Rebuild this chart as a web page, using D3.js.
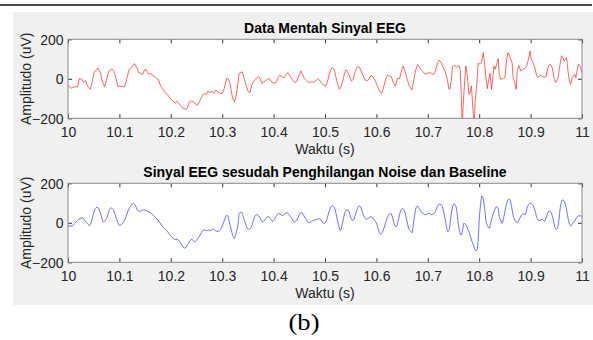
<!DOCTYPE html>
<html><head><meta charset="utf-8">
<script src="https://cdn.jsdelivr.net/npm/d3@7"></script>
<style>html,body{margin:0;padding:0;background:#fff;}svg{display:block;}</style>
</head><body>
<svg id="c" width="593" height="340"></svg>
<script>
const timeTicks = [10, 10.1, 10.2, 10.3, 10.4, 10.5, 10.6, 10.7, 10.8, 10.9, 11];
const ampTicks = [-200, 0, 200];
const titles = ["Data Mentah Sinyal EEG", "Sinyal EEG sesudah Penghilangan Noise dan Baseline"];
const xLabel = "Waktu (s)";
const yLabel = "Amplitudo (uV)";
const caption = "(b)";

const rawSignal = [
[10.000,-33],[10.006,-48],[10.012,-41],[10.019,-41],[10.022,1],[10.027,-3],[10.030,-16],[10.034,-9],[10.038,-36],[10.043,-53],
[10.047,-19],[10.051,35],[10.054,40],[10.058,55],[10.063,31],[10.067,-16],[10.071,-40],[10.075,-3],[10.080,41],[10.085,50],
[10.089,38],[10.093,6],[10.097,-40],[10.101,-36],[10.106,-40],[10.110,-40],[10.114,-3],[10.119,48],[10.125,62],[10.129,77],
[10.134,57],[10.137,31],[10.141,28],[10.145,21],[10.149,45],[10.152,48],[10.156,23],[10.160,28],[10.163,21],[10.167,14],
[10.173,1],[10.176,-3],[10.180,-36],[10.184,-50],[10.189,-70],[10.195,-84],[10.200,-104],[10.204,-111],[10.208,-124],[10.212,-114],
[10.217,-129],[10.220,-138],[10.224,-151],[10.230,-155],[10.233,-143],[10.236,-117],[10.240,-112],[10.244,-117],[10.248,-128],[10.252,-134],
[10.256,-114],[10.259,-97],[10.262,-80],[10.266,-74],[10.270,-79],[10.272,-63],[10.276,-70],[10.280,-63],[10.284,-74],[10.287,-57],
[10.292,-67],[10.296,-74],[10.300,-74],[10.303,-57],[10.309,4],[10.313,-3],[10.316,-36],[10.320,-95],[10.324,-117],[10.327,-87],
[10.331,-19],[10.333,28],[10.339,35],[10.350,-62],[10.354,-70],[10.358,-28],[10.363,-6],[10.367,4],[10.371,11],[10.374,1],
[10.377,-23],[10.381,-16],[10.385,-9],[10.389,1],[10.393,-3],[10.396,-16],[10.401,-23],[10.405,-19],[10.409,8],[10.412,18],
[10.416,11],[10.420,4],[10.424,21],[10.428,31],[10.432,14],[10.436,-3],[10.441,-19],[10.445,-13],[10.449,14],[10.453,40],
[10.457,18],[10.460,1],[10.464,-9],[10.468,-19],[10.472,-16],[10.476,-19],[10.481,-13],[10.486,1],[10.490,-9],[10.494,-23],
[10.498,-33],[10.502,-36],[10.506,-3],[10.510,40],[10.514,57],[10.518,48],[10.520,23],[10.524,-23],[10.528,-53],[10.532,-36],
[10.536,6],[10.540,45],[10.543,41],[10.547,18],[10.551,-11],[10.555,-3],[10.559,40],[10.563,62],[10.567,58],[10.571,35],
[10.575,11],[10.578,-6],[10.582,-9],[10.586,1],[10.590,18],[10.594,6],[10.598,-11],[10.602,-36],[10.606,-62],[10.610,-74],
[10.613,-53],[10.617,-11],[10.621,18],[10.625,14],[10.629,11],[10.633,-19],[10.637,-36],[10.641,1],[10.645,1],[10.649,40],
[10.652,65],[10.656,35],[10.660,-3],[10.664,-36],[10.669,-57],[10.673,-3],[10.676,40],[10.680,72],[10.684,57],[10.687,45],
[10.691,35],[10.695,23],[10.699,28],[10.703,31],[10.707,28],[10.711,21],[10.715,40],[10.719,82],[10.722,95],[10.726,82],
[10.730,57],[10.734,35],[10.738,-3],[10.741,-50],[10.743,-53],[10.746,-3],[10.748,62],[10.752,68],[10.756,57],[10.760,68],
[10.763,48],[10.765,-79],[10.767,-240],[10.769,-121],[10.772,-3],[10.774,65],[10.777,14],[10.780,-79],[10.782,-74],[10.785,-36],
[10.787,-121],[10.790,-240],[10.792,-121],[10.795,-36],[10.798,79],[10.802,74],[10.805,85],[10.808,133],[10.811,65],[10.813,6],
[10.816,-50],[10.818,-11],[10.821,28],[10.824,-53],[10.826,-3],[10.829,65],[10.831,48],[10.834,74],[10.837,102],[10.839,23],
[10.842,-3],[10.846,1],[10.850,6],[10.853,90],[10.856,133],[10.859,116],[10.861,99],[10.864,82],[10.866,6],[10.869,-19],
[10.872,-53],[10.874,40],[10.877,68],[10.881,40],[10.885,48],[10.888,52],[10.892,62],[10.896,99],[10.899,141],[10.901,99],
[10.905,82],[10.909,48],[10.912,14],[10.914,6],[10.918,18],[10.922,14],[10.926,6],[10.930,11],[10.933,48],[10.935,68],
[10.938,74],[10.942,57],[10.946,-3],[10.949,-19],[10.953,1],[10.957,68],[10.960,116],[10.962,112],[10.965,90],[10.968,99],
[10.970,107],[10.973,35],[10.975,-3],[10.978,-28],[10.981,6],[10.983,14],[10.986,23],[10.988,6],[10.991,48],[10.993,74],
[10.996,65],[11.000,31]
];

const cleanSignal = [
[10.000,-16],[10.008,-16],[10.013,-3],[10.018,11],[10.023,21],[10.029,25],[10.032,14],[10.036,1],[10.042,-13],[10.045,1],
[10.049,41],[10.053,72],[10.057,79],[10.061,65],[10.065,31],[10.069,4],[10.073,14],[10.077,35],[10.080,62],[10.084,75],
[10.088,68],[10.092,38],[10.096,8],[10.100,-13],[10.104,-9],[10.108,4],[10.112,25],[10.115,48],[10.119,72],[10.123,89],
[10.127,97],[10.131,89],[10.135,65],[10.139,58],[10.143,62],[10.147,65],[10.150,65],[10.154,58],[10.160,52],[10.165,41],
[10.170,28],[10.175,14],[10.180,-3],[10.185,-23],[10.191,-36],[10.196,-53],[10.201,-70],[10.205,-80],[10.209,-84],[10.213,-84],
[10.217,-94],[10.220,-107],[10.224,-124],[10.228,-128],[10.232,-114],[10.236,-97],[10.240,-84],[10.244,-90],[10.246,-97],[10.250,-90],
[10.254,-74],[10.258,-57],[10.262,-40],[10.266,-36],[10.270,-40],[10.274,-36],[10.278,-40],[10.281,-30],[10.285,-36],[10.289,-43],
[10.293,-43],[10.297,-33],[10.301,-11],[10.305,18],[10.309,38],[10.311,35],[10.314,4],[10.318,-40],[10.322,-74],[10.324,-79],
[10.327,-53],[10.331,-3],[10.333,48],[10.337,55],[10.342,23],[10.346,-11],[10.351,-33],[10.355,-28],[10.359,-3],[10.363,31],
[10.367,41],[10.371,35],[10.375,18],[10.379,4],[10.383,14],[10.387,28],[10.390,31],[10.394,21],[10.398,8],[10.402,18],
[10.406,38],[10.410,48],[10.414,41],[10.418,38],[10.422,45],[10.425,52],[10.429,45],[10.433,31],[10.437,14],[10.441,4],
[10.445,14],[10.449,35],[10.453,52],[10.457,45],[10.460,31],[10.464,14],[10.468,1],[10.472,4],[10.476,11],[10.480,14],
[10.484,18],[10.488,21],[10.492,14],[10.495,1],[10.499,-3],[10.503,14],[10.507,48],[10.511,79],[10.515,85],[10.519,72],
[10.523,28],[10.527,-19],[10.530,-40],[10.534,-3],[10.538,45],[10.542,65],[10.546,62],[10.550,28],[10.554,11],[10.558,31],
[10.562,65],[10.566,85],[10.569,82],[10.573,52],[10.577,28],[10.581,18],[10.585,25],[10.589,31],[10.593,25],[10.597,11],
[10.601,-9],[10.604,-36],[10.608,-57],[10.612,-46],[10.616,-16],[10.620,18],[10.624,41],[10.628,48],[10.632,21],[10.636,-16],
[10.639,-19],[10.643,18],[10.647,58],[10.651,72],[10.655,58],[10.659,14],[10.663,-30],[10.667,-45],[10.669,-50],[10.673,14],
[10.677,75],[10.680,85],[10.684,68],[10.687,55],[10.691,48],[10.695,41],[10.699,45],[10.703,48],[10.707,41],[10.711,45],
[10.715,58],[10.719,85],[10.722,95],[10.726,92],[10.730,65],[10.734,14],[10.737,-28],[10.739,-45],[10.742,-33],[10.744,14],
[10.747,65],[10.751,95],[10.755,82],[10.757,48],[10.760,-19],[10.763,-53],[10.765,-63],[10.768,-33],[10.770,-3],[10.773,-6],
[10.777,-26],[10.781,-53],[10.785,-87],[10.789,-114],[10.792,-138],[10.795,-141],[10.798,-87],[10.800,14],[10.803,99],[10.805,136],
[10.808,119],[10.811,65],[10.813,14],[10.817,-19],[10.820,-28],[10.822,-3],[10.826,35],[10.830,65],[10.834,82],[10.837,72],
[10.839,31],[10.842,14],[10.844,-3],[10.848,31],[10.852,82],[10.856,116],[10.859,119],[10.863,82],[10.866,38],[10.870,11],
[10.874,1],[10.878,18],[10.882,38],[10.886,45],[10.890,41],[10.892,65],[10.896,92],[10.900,99],[10.904,92],[10.908,65],
[10.912,28],[10.916,11],[10.920,14],[10.923,18],[10.927,8],[10.931,31],[10.935,58],[10.939,55],[10.943,28],[10.947,-19],
[10.951,-33],[10.955,11],[10.958,82],[10.962,116],[10.966,106],[10.970,65],[10.974,8],[10.978,-16],[10.982,-3],[10.986,11],
[10.990,28],[10.993,35],[10.997,35],[11.000,31]
];

const svg = d3.select("#c");
const FONT = "'Liberation Sans', Arial, Helvetica, sans-serif";

svg.append("rect").attr("x",0).attr("y",0).attr("width",593).attr("height",340).attr("fill","#fff");
svg.append("line").attr("x1",0).attr("x2",592).attr("y1",5).attr("y2",5).attr("stroke","#111").attr("stroke-width",1.7);
svg.append("rect").attr("x",13).attr("y",12).attr("width",580).attr("height",293).attr("fill","#f0f0f0");

const x = d3.scaleLinear().domain([10, 11]).range([68, 582]);

const panels = [
  {top: 39.3, bottom: 118.3, data: rawSignal, color: "#ff1a1a", curve: d3.curveLinear, title: titles[0]},
  {top: 183.3, bottom: 262.3, data: cleanSignal, color: "#2a2aff", curve: d3.curveMonotoneX, title: titles[1]}
];

panels.forEach((p, i) => {
  const y = d3.scaleLinear().domain([-200, 200]).range([p.bottom, p.top]);
  const g = svg.append("g");
  const clipId = "clip" + i;
  svg.append("clipPath").attr("id", clipId).append("rect")
    .attr("x", x.range()[0]).attr("y", p.top).attr("width", x.range()[1]-x.range()[0]).attr("height", p.bottom-p.top);

  g.append("rect").attr("x", 68).attr("y", p.top).attr("width", 514).attr("height", p.bottom-p.top).attr("fill", "#fff");

  const line = d3.line().x(d => x(d[0])).y(d => y(d[1])).curve(p.curve);
  g.append("path").datum(p.data).attr("clip-path", `url(#${clipId})`)
    .attr("d", line).attr("fill", "none").attr("stroke", p.color)
    .attr("stroke-width", 0.8).attr("stroke-opacity", 0.85).attr("stroke-linejoin","round");

  const fmt = d => d3.format("")(+d.toFixed(1));
  const xb = g.append("g").attr("transform", `translate(0,${p.bottom})`)
    .call(d3.axisBottom(x).tickValues(timeTicks).tickSizeInner(-4).tickSizeOuter(0).tickFormat(fmt));
  xb.selectAll("text").attr("y", 18.7).attr("dy", 0).attr("font-size", 14).attr("font-family", FONT).attr("fill", "#262626");
  const xt = g.append("g").attr("transform", `translate(0,${p.top})`)
    .call(d3.axisTop(x).tickValues(timeTicks).tickSizeInner(-4).tickSizeOuter(0).tickFormat(""));
  const yl = g.append("g").attr("transform", `translate(68,0)`)
    .call(d3.axisLeft(y).tickValues(ampTicks).tickSizeInner(-4).tickSizeOuter(0).tickFormat(d3.format("d")));
  yl.selectAll("text").attr("x", -4.5).attr("dy", "0.36em").attr("font-size", 14).attr("font-family", FONT).attr("fill", "#262626");
  const yr = g.append("g").attr("transform", `translate(582,0)`)
    .call(d3.axisRight(y).tickValues(ampTicks).tickSizeInner(-4).tickSizeOuter(0).tickFormat(""));
  [xb, xt, yl, yr].forEach(a => {
    a.select(".domain").remove();
    a.selectAll(".tick line").attr("stroke", "#333").attr("stroke-width", 1);
  });
  g.append("rect").attr("x", 68).attr("y", p.top).attr("width", 514).attr("height", p.bottom-p.top)
    .attr("fill", "none").attr("stroke", "#8a8a8a").attr("stroke-width", 1);

  g.append("text").attr("x", 325).attr("y", p.top - 6.8).attr("text-anchor", "middle")
    .attr("font-family", FONT).attr("font-size", 14).attr("font-weight", "bold").attr("fill", "#000").text(p.title);
  g.append("text").attr("x", 325).attr("y", p.bottom + 35.2).attr("text-anchor", "middle")
    .attr("font-family", FONT).attr("font-size", 14).attr("fill", "#262626").text(xLabel);
  g.append("text").attr("transform", `translate(31,${(p.top+p.bottom)/2}) rotate(-90)`).attr("text-anchor", "middle")
    .attr("font-family", FONT).attr("font-size", 14).attr("fill", "#262626").text(yLabel);
});

svg.append("text").attr("x", 304).attr("y", 329.5).attr("text-anchor", "middle")
  .attr("font-family", "'Liberation Serif', 'Times New Roman', serif").attr("font-size", 24)
  .attr("textLength", 31).attr("lengthAdjust", "spacingAndGlyphs")
  .attr("fill", "#000").text(caption);
</script>
</body></html>
